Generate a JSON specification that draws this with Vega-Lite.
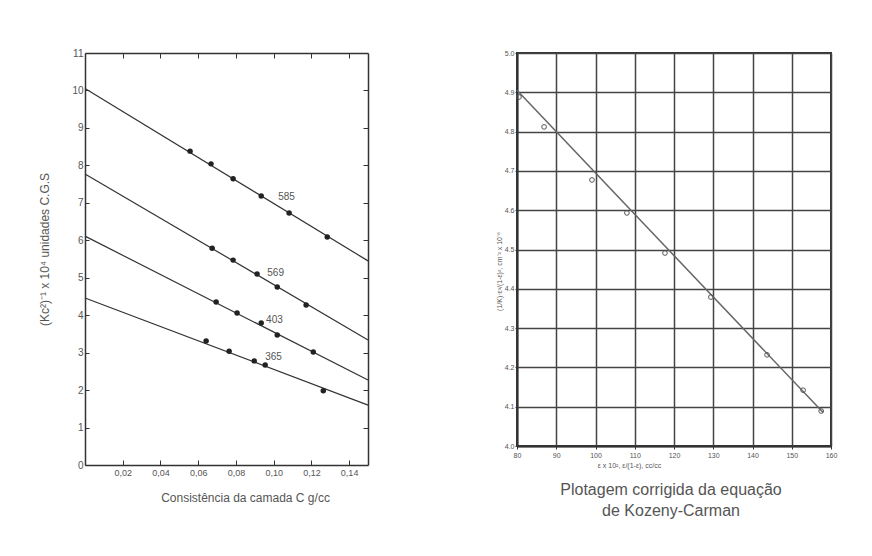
{
  "$schema": "https://vega.github.io/schema/vega-lite/v6.json",
  "background": "white",
  "padding": {"left": 38, "top": 48, "right": 10, "bottom": 5},
  "autosize": {"type": "pad"},
  "spacing": 123,
  "config": {
    "font": "Liberation Sans",
    "view": {"stroke": null},
    "axis": {"labelColor": "#555", "titleColor": "#555", "titleFontWeight": "normal", "domainColor": "#333", "tickColor": "#333"}
  },
  "datasets": {
    "fits": [
      {"series": "585", "x": 0, "y": 10.05}, {"series": "585", "x": 0.15, "y": 5.45},
      {"series": "569", "x": 0, "y": 7.77}, {"series": "569", "x": 0.15, "y": 3.34},
      {"series": "403", "x": 0, "y": 6.11}, {"series": "403", "x": 0.15, "y": 2.27},
      {"series": "365", "x": 0, "y": 4.46}, {"series": "365", "x": 0.15, "y": 1.6}
    ],
    "pts": [
      {"series": "585", "x": 0.0557, "y": 8.38}, {"series": "585", "x": 0.0668, "y": 8.04},
      {"series": "585", "x": 0.0785, "y": 7.64}, {"series": "585", "x": 0.0934, "y": 7.18},
      {"series": "585", "x": 0.1082, "y": 6.73}, {"series": "585", "x": 0.1284, "y": 6.09},
      {"series": "569", "x": 0.0674, "y": 5.79}, {"series": "569", "x": 0.0785, "y": 5.47},
      {"series": "569", "x": 0.0912, "y": 5.1}, {"series": "569", "x": 0.1019, "y": 4.75},
      {"series": "569", "x": 0.1172, "y": 4.27},
      {"series": "403", "x": 0.0695, "y": 4.35}, {"series": "403", "x": 0.0806, "y": 4.06},
      {"series": "403", "x": 0.0934, "y": 3.79}, {"series": "403", "x": 0.1019, "y": 3.47},
      {"series": "403", "x": 0.121, "y": 3.02},
      {"series": "365", "x": 0.0642, "y": 3.31}, {"series": "365", "x": 0.0764, "y": 3.04},
      {"series": "365", "x": 0.0897, "y": 2.78}, {"series": "365", "x": 0.0955, "y": 2.67},
      {"series": "365", "x": 0.1263, "y": 1.98}
    ],
    "labels": [
      {"label": "585", "x": 0.1024, "y": 7.16},
      {"label": "569", "x": 0.0966, "y": 5.13},
      {"label": "403", "x": 0.096, "y": 3.87},
      {"label": "365", "x": 0.0955, "y": 2.88}
    ],
    "kfit": [
      {"x": 80, "y": 4.905}, {"x": 158, "y": 4.085}
    ],
    "kpts": [
      {"x": 80.5, "y": 4.888}, {"x": 86.9, "y": 4.812}, {"x": 99.1, "y": 4.677},
      {"x": 108.0, "y": 4.593}, {"x": 117.7, "y": 4.491}, {"x": 129.4, "y": 4.379},
      {"x": 143.7, "y": 4.232}, {"x": 152.9, "y": 4.142}, {"x": 157.5, "y": 4.089}
    ]
  },
  "hconcat": [
    {
      "width": 283,
      "height": 412,
      "resolve": {"axis": {"x": "independent", "y": "independent"}},
      "layer": [
        {
          "data": {"name": "fits"},
          "mark": {"type": "line", "color": "#333", "strokeWidth": 1.2},
          "encoding": {
            "x": {"field": "x", "type": "quantitative", "scale": {"domain": [0, 0.15], "nice": false, "zero": false},
              "axis": {"orient": "bottom", "values": [0.02, 0.04, 0.06, 0.08, 0.1, 0.12, 0.14],
                "labelExpr": "replace(format(datum.value, '.2f'), '.', ',')",
                "labelFontSize": 9, "tickSize": -5, "labelPadding": 8, "grid": false, "domainWidth": 1.5,
                "title": "Consistência da camada C  g/cc", "titleFontSize": 12, "titlePadding": 15, "titleX": 160, "titleAlign": "center"}},
            "y": {"field": "y", "type": "quantitative", "scale": {"domain": [0, 11], "nice": false},
              "axis": {"orient": "left", "values": [0, 1, 2, 3, 4, 5, 6, 7, 8, 9, 10, 11],
                "labelFontSize": 10, "tickSize": -4, "labelPadding": 6, "grid": false, "domainWidth": 1.5,
                "title": "(Kc²)⁻¹ x 10⁴ unidades C.G.S", "titleFontSize": 12, "titlePadding": 20, "titleY": 196, "titleAlign": "center"}},
            "detail": {"field": "series"}
          }
        },
        {
          "data": {"name": "pts"},
          "mark": {"type": "point", "filled": true, "shape": "circle", "size": 30, "color": "#222", "opacity": 1},
          "encoding": {
            "x": {"field": "x", "type": "quantitative",
              "axis": {"orient": "top", "values": [0.02, 0.04, 0.06, 0.08, 0.1, 0.12, 0.14], "labels": false, "tickSize": -5, "grid": false, "title": null, "domainWidth": 1.5}},
            "y": {"field": "y", "type": "quantitative",
              "axis": {"orient": "right", "values": [1, 2, 3, 4, 5, 6, 7, 8, 9, 10], "labels": false, "tickSize": -5, "grid": false, "title": null, "domainWidth": 1.5}}
          }
        },
        {
          "data": {"name": "labels"},
          "mark": {"type": "text", "align": "left", "baseline": "middle", "fontSize": 10, "color": "#555"},
          "encoding": {
            "x": {"field": "x", "type": "quantitative", "axis": null},
            "y": {"field": "y", "type": "quantitative", "axis": null},
            "text": {"field": "label"}
          }
        }
      ]
    },
    {
      "width": 314,
      "height": 393,
      "view": {"stroke": "#333", "strokeWidth": 2},
      "title": {"text": ["Plotagem corrigida da equação", "de Kozeny-Carman"], "orient": "bottom", "anchor": "middle",
        "fontSize": 16, "fontWeight": "normal", "color": "#555", "font": "Liberation Sans", "lineHeight": 21, "offset": 14, "dx": -3},
      "encoding": {
        "x": {"field": "x", "type": "quantitative", "scale": {"domain": [80, 160], "nice": false, "zero": false},
          "axis": {"values": [80, 90, 100, 110, 120, 130, 140, 150, 160], "grid": true, "gridColor": "#444", "gridWidth": 1.5,
            "labelFontSize": 7, "labelOverlap": false, "labelFlush": false, "tickSize": 3, "labelPadding": 2, "domainWidth": 2,
            "title": "ε x 10², ε/(1-ε), cc/cc", "titleFontSize": 7, "titlePadding": 3, "titleX": 112, "titleAlign": "center"}},
        "y": {"field": "y", "type": "quantitative", "scale": {"domain": [4, 5], "nice": false, "zero": false},
          "axis": {"values": [4.0, 4.1, 4.2, 4.3, 4.4, 4.5, 4.6, 4.7, 4.8, 4.9, 5.0], "format": ".1f", "grid": true, "gridColor": "#444", "gridWidth": 1.5,
            "labelFontSize": 7, "labelOverlap": false, "labelFlush": false, "tickSize": 2, "labelPadding": 1, "domainWidth": 2,
            "title": "(1/K)·ε³/(1-ε)², cm⁻² x 10⁻⁸", "titleFontSize": 7, "titlePadding": 2, "titleY": 218, "titleAlign": "center"}}
      },
      "layer": [
        {
          "data": {"name": "kfit"},
          "mark": {"type": "line", "color": "#666", "strokeWidth": 1.5}
        },
        {
          "data": {"name": "kpts"},
          "mark": {"type": "point", "shape": "circle", "size": 22, "color": "#555", "strokeWidth": 1, "filled": false, "opacity": 1}
        }
      ]
    }
  ]
}
